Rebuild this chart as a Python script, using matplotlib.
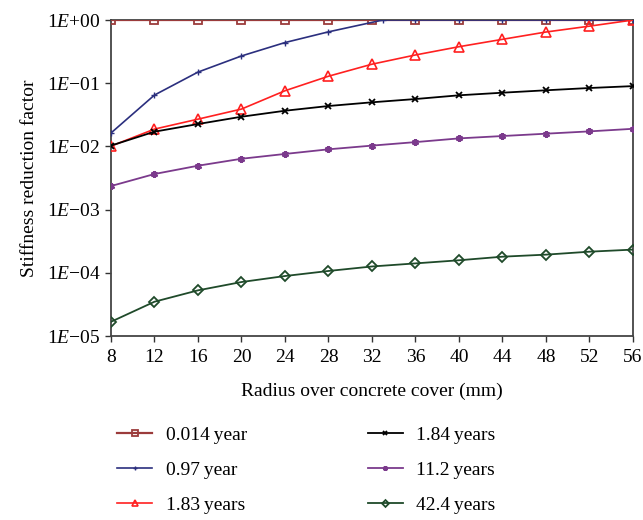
import matplotlib.pyplot as plt
import numpy as np

plt.rcParams['font.family'] = ['Liberation Serif', 'DejaVu Serif']
plt.rcParams['mathtext.fontset'] = 'custom'
plt.rcParams['mathtext.rm'] = 'Liberation Serif'
plt.rcParams['mathtext.it'] = 'Liberation Serif:italic'

radius = [8, 12, 16, 20, 24, 28, 32, 36, 40, 44, 48, 52, 56]
radius_097 = [8, 12, 16, 20, 24, 28, 33, 36, 40, 44, 48, 52, 56]

y_0014 = [1, 1, 1, 1, 1, 1, 1, 1, 1, 1, 1, 1, 1]
y_097 = [0.0163, 0.065, 0.150, 0.27, 0.44, 0.65, 1, 1, 1, 1, 1, 1, 1]
y_183 = [0.0101, 0.0188, 0.027, 0.039, 0.076, 0.129, 0.20, 0.28, 0.378, 0.495, 0.646, 0.80, 1.0]
y_184 = [0.0103, 0.0171, 0.0226, 0.0295, 0.0367, 0.0436, 0.0499, 0.0562, 0.0644, 0.0708, 0.0773, 0.084, 0.090]
y_112 = [0.00236, 0.00366, 0.00495, 0.00638, 0.0076, 0.0090, 0.0103, 0.0117, 0.0134, 0.0146, 0.0159, 0.0173, 0.019]
y_424 = [1.68e-5, 3.49e-5, 5.28e-5, 7.15e-5, 8.9e-5, 1.07e-4, 1.26e-4, 1.41e-4, 1.58e-4, 1.80e-4, 1.94e-4, 2.16e-4, 2.33e-4]

labels = ['0.014\u2009year', '0.97\u2009year', '1.83\u2009years',
          '1.84\u2009years', '11.2\u2009years', '42.4\u2009years']

ytick_vals = [1e0, 1e-1, 1e-2, 1e-3, 1e-4, 1e-5]
ytick_labels = ['1$\\it{E}$+00', '1$\\it{E}$\u221201', '1$\\it{E}$\u221202',
                '1$\\it{E}$\u221203', '1$\\it{E}$\u221204', '1$\\it{E}$\u221205']

fig = plt.figure(figsize=(6.43, 5.2), dpi=100)
ax = fig.add_axes([0.1726, 0.3538, 0.8118, 0.6077])

ax.plot(radius, y_0014, color='#9b3b3b', lw=1.6, marker='s', ms=6, mfc='none', mec='#9b3b3b', mew=1.3, label=labels[0], zorder=3)
ax.plot(radius_097, y_097, color='#2b2f7e', lw=1.2, marker='+', ms=5, mew=1.0, label=labels[1], zorder=4)
ax.plot(radius, y_183, color='#ff2020', lw=1.2, marker='^', ms=7, mfc='none', mec='#ff2020', mew=1.2, label=labels[2], zorder=4)
ax.plot(radius, y_184, color='black', lw=1.3, marker='x', ms=4.5, mew=1.3, label=labels[3], zorder=4)
ax.plot(radius, y_112, color='#7b3a8c', lw=1.3, marker=(6, 2, 0), ms=5, mew=1.6, mec='#7b3a8c', label=labels[4], zorder=4)
ax.plot(radius, y_424, color='#1f4a2a', lw=1.3, marker='D', ms=5, mfc='none', mec='#1f4a2a', mew=1.3, label=labels[5], zorder=4)

ax.set_yscale('log')
ax.set_ylim(1e-5, 1)
ax.set_xlim(8, 56)
ax.set_xticks(radius)
ax.set_yticks(ytick_vals)
ax.set_yticklabels(ytick_labels)
ax.minorticks_off()
ax.tick_params(labelsize=14, direction='out', length=4, width=1, color='#333333')
ax.tick_params(axis='x', pad=5)
for s in ax.spines.values():
    s.set_color('#444444')
    s.set_linewidth(1.3)

ax.set_xlabel('Radius over concrete cover (mm)', fontsize=14, labelpad=12)
ax.set_ylabel('Stiffness reduction factor', fontsize=14, labelpad=6)

fig.legend(loc='upper left', bbox_to_anchor=(0.17, 0.195), ncol=2, frameon=False,
           fontsize=14, handlelength=1.8, labelspacing=0.9, columnspacing=6.2,
           handletextpad=0.7, borderaxespad=0, markerscale=0.7)

fig.savefig('out.png', dpi=100)
